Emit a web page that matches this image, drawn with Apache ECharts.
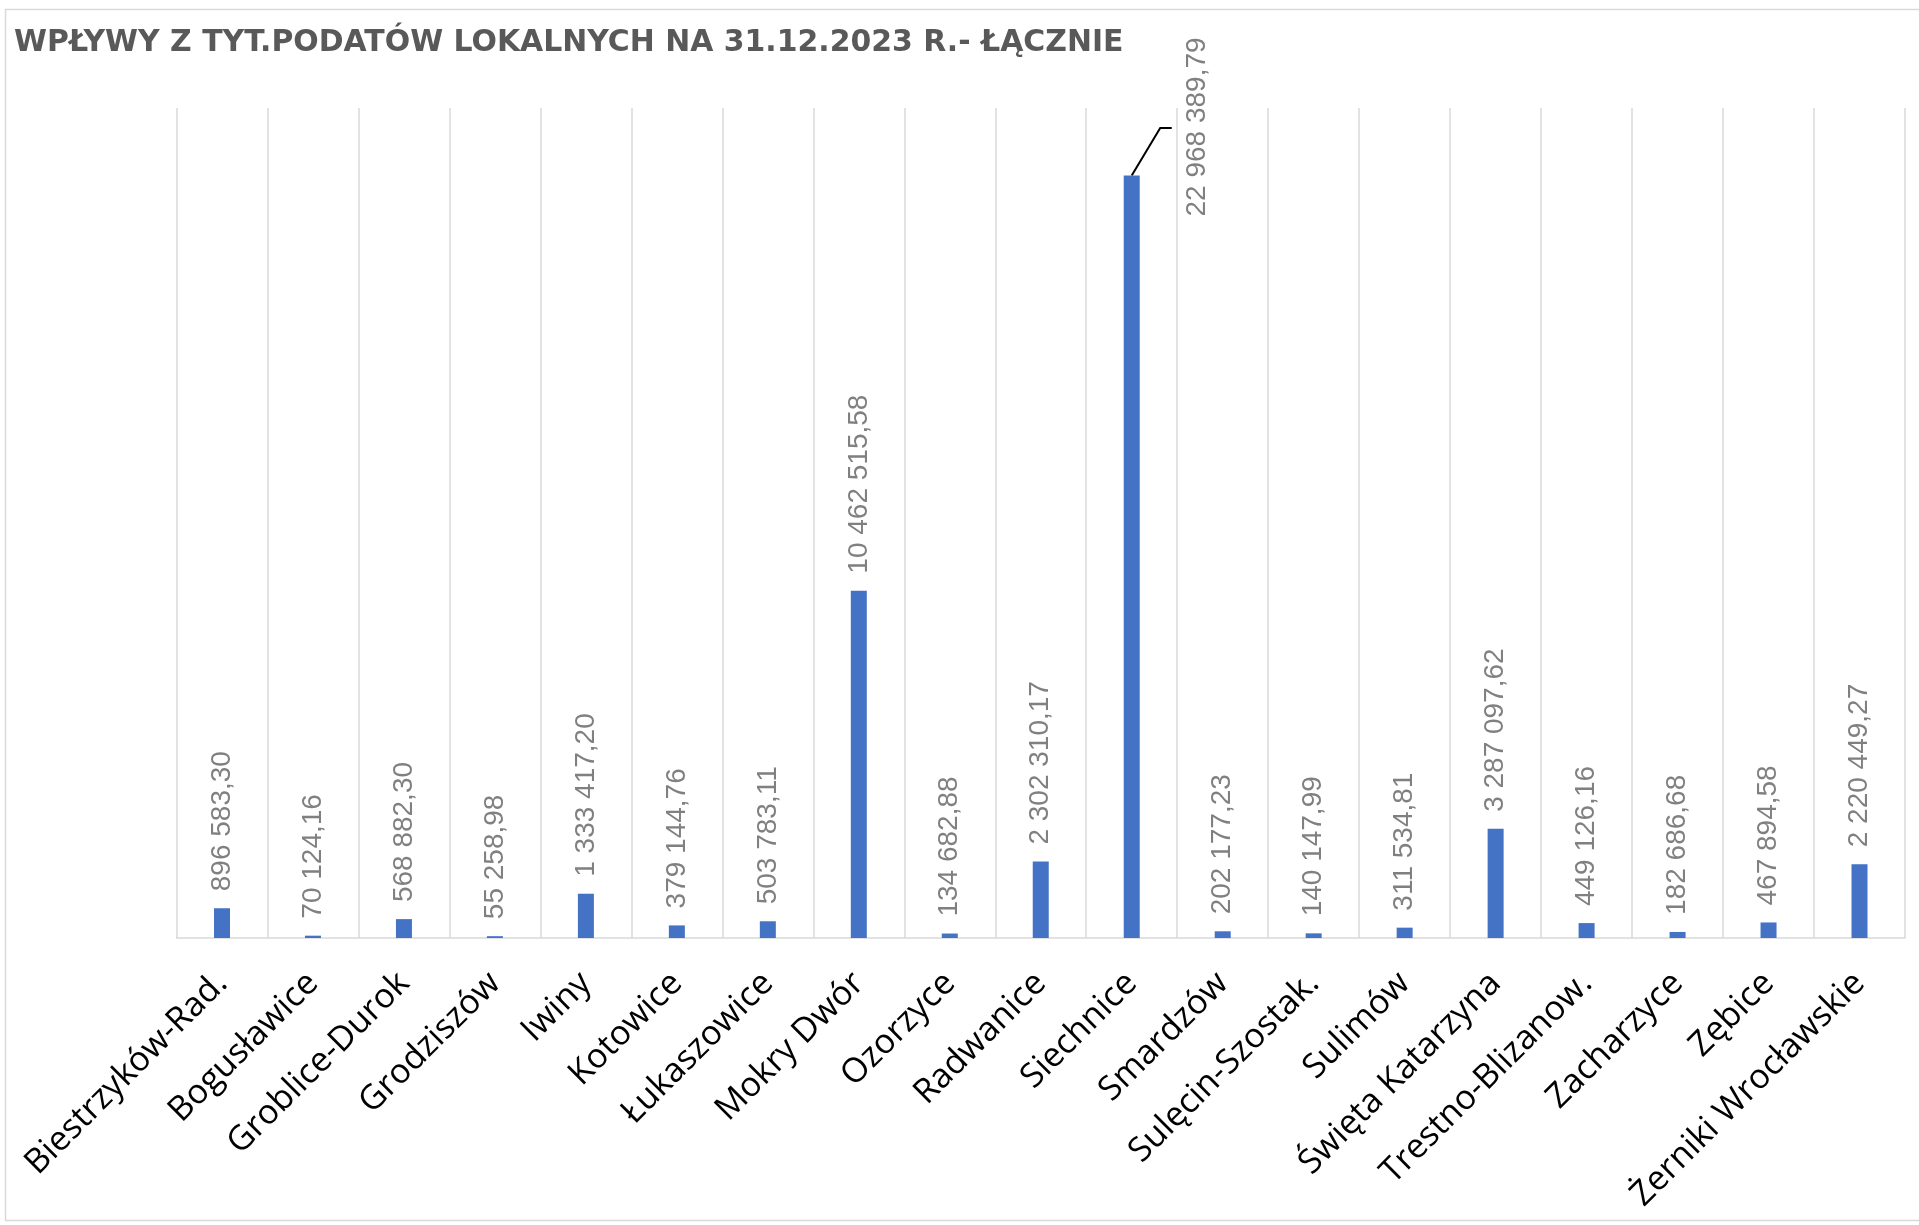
<!DOCTYPE html>
<html>
<head>
<meta charset="utf-8">
<script src="https://cdn.jsdelivr.net/npm/echarts@6/dist/echarts.min.js"></script>
<style>
html,body{margin:0;padding:0;background:#fff;}
#chart{width:1919px;height:1225px;}
</style>
</head>
<body>
<div id="chart"></div>
<script>
var titleText = 'WPŁYWY Z TYT.PODATÓW LOKALNYCH NA 31.12.2023 R.- ŁĄCZNIE';
var categories = ['Biestrzyków-Rad.', 'Bogusławice', 'Groblice-Durok', 'Grodziszów', 'Iwiny', 'Kotowice', 'Łukaszowice', 'Mokry Dwór', 'Ozorzyce', 'Radwanice', 'Siechnice', 'Smardzów', 'Sulęcin-Szostak.', 'Sulimów', 'Święta Katarzyna', 'Trestno-Blizanow.', 'Zacharzyce', 'Zębice', 'Żerniki Wrocławskie'];
var values = [896583.30, 70124.16, 568882.30, 55258.98, 1333417.20, 379144.76, 503783.11, 10462515.58, 134682.88, 2302310.17, 22968389.79, 202177.23, 140147.99, 311534.81, 3287097.62, 449126.16, 182686.68, 467894.58, 2220449.27];
var yMax = 25000000;
var calloutIndex = 10;

function fmt(v) {
  var parts = v.toFixed(2).split('.');
  var intPart = parts[0].replace(/\B(?=(\d{3})+(?!\d))/g, ' ');
  return intPart + ',' + parts[1];
}

var borderGraphic = {
  id: 'border',
  type: 'rect',
  shape: { x: 5.5, y: 9.5, width: 1930, height: 1211 },
  style: { fill: 'none', stroke: '#d9d9d9', lineWidth: 1.5 },
  silent: true
};

var chart = echarts.init(document.getElementById('chart'));
chart.setOption({
  animation: false,
  backgroundColor: '#fff',
  title: {
    text: titleText,
    left: 9,
    top: 23,
    textStyle: { fontFamily: 'DejaVu Sans', fontWeight: 'bold', fontSize: 29.9, color: '#595959' }
  },
  graphic: [borderGraphic],
  grid: { left: 176.5, right: 14, top: 108, bottom: 287, containLabel: false },
  xAxis: {
    type: 'category',
    data: categories,
    boundaryGap: true,
    axisLine: { show: true, lineStyle: { color: '#d9d9d9', width: 1.5 } },
    axisTick: { show: false },
    splitLine: { show: true, interval: 0, lineStyle: { color: '#d9d9d9', width: 1.5 } },
    axisLabel: {
      interval: 0,
      rotate: 45,
      margin: 40,
      fontFamily: 'Open Sans',
      fontSize: 34,
      color: '#000'
    }
  },
  yAxis: {
    type: 'value',
    min: 0,
    max: yMax,
    show: false,
    splitLine: { show: false }
  },
  series: [{
    type: 'bar',
    data: values,
    barWidth: 16,
    itemStyle: { color: '#4472C4' },
    label: {
      show: true,
      position: 'top',
      rotate: 90,
      align: 'left',
      verticalAlign: 'middle',
      distance: 17,
      fontFamily: 'Liberation Sans',
      fontSize: 28,
      color: '#808080',
      formatter: function (p) { return fmt(p.value); }
    },
    labelLayout: function (p) {
      if (p.dataIndex === calloutIndex) {
        return { dx: -58, dy: 66 };
      }
      return {};
    }
  }]
});

// leader line for the moved label, anchored at the bar top via the chart's own scales
var barTop = chart.convertToPixel({ seriesIndex: 0 }, [calloutIndex, values[calloutIndex]]);
chart.setOption({
  graphic: [borderGraphic, {
    id: 'leader',
    type: 'polyline',
    silent: true,
    shape: { points: [[barTop[0], barTop[1]], [barTop[0] + 28.5, barTop[1] - 47.5], [barTop[0] + 40, barTop[1] - 47.5]] },
    style: { stroke: '#000', lineWidth: 2, fill: 'none' }
  }]
});
</script>
</body>
</html>
